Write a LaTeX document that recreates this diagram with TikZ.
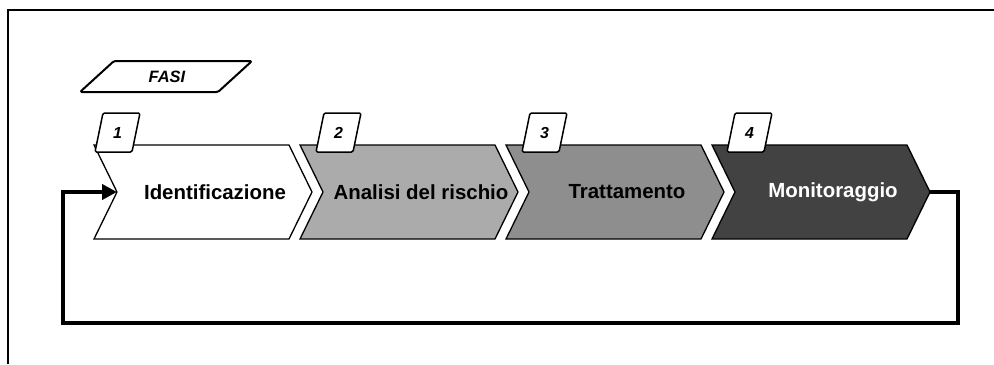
\documentclass[tikz,border=0pt]{standalone}
\usepackage{fontspec}
\setmainfont{Liberation Sans}
\usetikzlibrary{arrows.meta}
\definecolor{phaseA}{HTML}{FFFFFF}
\definecolor{phaseB}{HTML}{ABABAB}
\definecolor{phaseC}{HTML}{8E8E8E}
\definecolor{phaseD}{HTML}{424242}
\begin{document}
\begin{tikzpicture}[x=1bp,y=-1bp,
  chev/.style={draw=black,line width=1.3bp,line join=miter},
  numbox/.style={draw=black,fill=white,line width=1.5bp,rounded corners=1.5bp,line join=round},
  fasibox/.style={draw=black,fill=white,line width=2bp,rounded corners=1.5bp,line join=round},
  lbl/.style={font=\bfseries\fontsize{20.5}{22}\selectfont,inner sep=0pt},
  numlbl/.style={font=\bfseries\itshape\fontsize{16}{17}\selectfont,inner sep=0pt},
  fasilbl/.style={font=\bfseries\itshape\fontsize{16.5}{17}\selectfont,inner sep=0pt},
  loopline/.style={line width=4.8bp,line join=miter}]
\useasboundingbox (0,0) rectangle (994,364);
\draw[line width=1.5bp] (8,364) -- (8,10) -- (994,10);

% FASI label
\draw[fasibox] (80,92) -- (114,61) -- (252,61) -- (218,92) -- cycle;
\node[fasilbl] (fasi) at (167,77) {FASI};

% chevrons
\newcommand\mychev[6]{%
  \draw[chev,fill=#2] (#1,145) -- (#1+195,145) -- (#1+218,192) -- (#1+195,239) -- (#1,239) -- (#1+23,192) -- cycle;
  \coordinate (#3notch) at (#1+23,192);
  \coordinate (#3tip) at (#1+218,192);
  \node[lbl,text=#4] (#3) at (#1+121,192) {#5};
  \draw[numbox] (#1+#6,152) -- (#1+#6+8,113) -- (#1+#6+45,113) -- (#1+#6+37,152) -- cycle;
}
\mychev{94}{phaseA}{c1}{black}{Identificazione}{1}
\node[numlbl] (n1) at (94+1+22.5,133) {1};
\mychev{300}{phaseB}{c2}{black}{Analisi del rischio}{16}
\node[numlbl] (n2) at (300+16+22.5,133) {2};
\mychev{506}{phaseC}{c3}{black}{Trattamento}{16}
\node[numlbl] (n3) at (506+16+22.5,133) {3};
\mychev{712}{phaseD}{c4}{white}{Monitoraggio}{15}
\node[numlbl] (n4) at (712+15+22.5,133) {4};

% feedback loop
\coordinate (loopR) at (958,192);
\coordinate (loopBR) at (958,323);
\coordinate (loopBL) at (63,323);
\coordinate (loopL) at (63,192);
\draw[loopline,-{Triangle[length=15bp,width=15bp]}] (c4tip) -- (loopR) -- (loopBR) -- (loopBL) -- (loopL) -- (c1notch);
\end{tikzpicture}
\end{document}
